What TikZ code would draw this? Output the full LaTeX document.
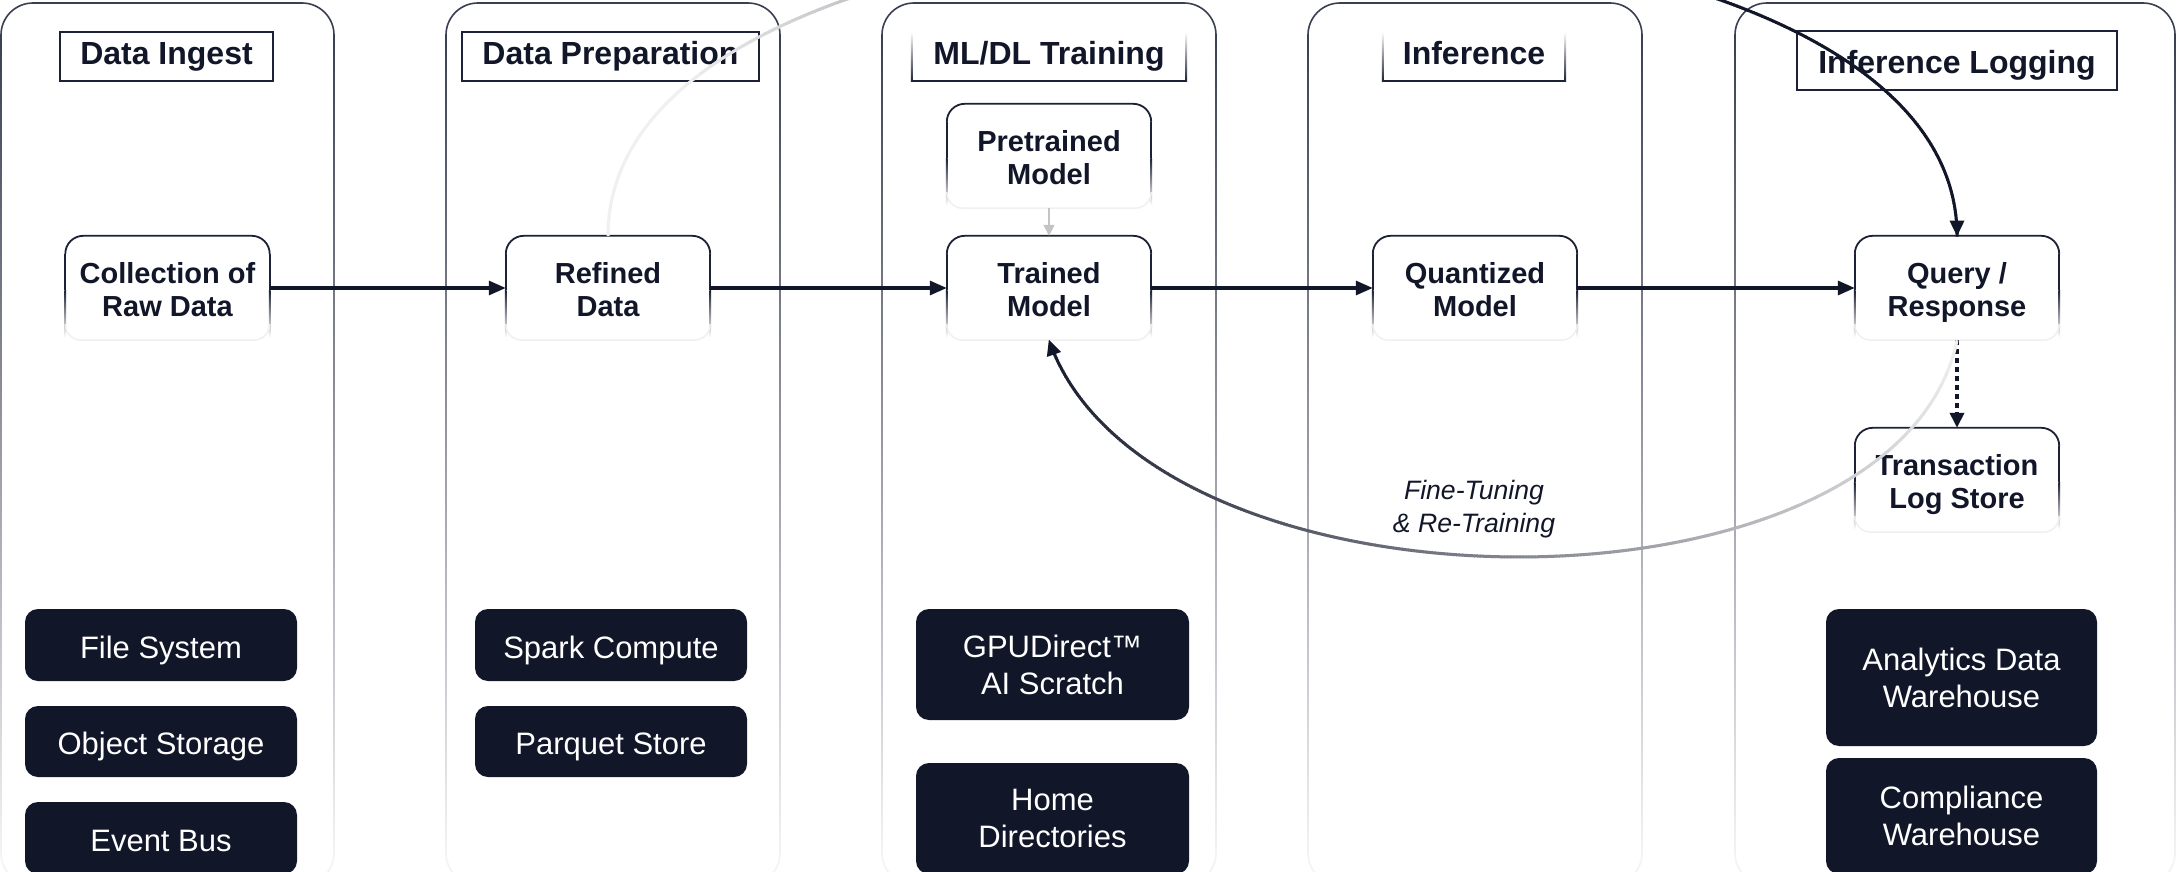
\documentclass[tikz,border=0pt]{standalone}
\usepackage{fontspec}
\setmainfont{Liberation Sans}
\usetikzlibrary{arrows.meta,calc,decorations.markings}
\definecolor{navy}{HTML}{111629}
\definecolor{boxdark}{HTML}{1C2136}
\definecolor{lanedark}{HTML}{3A3F52}
\definecolor{lanelight}{HTML}{F3F3F5}
\definecolor{arclight}{HTML}{F0F0F0}
\definecolor{greyarr}{HTML}{C4C4C4}

\newcommand\nodefont{\fontsize{29}{33}\selectfont\bfseries}
\newcommand\titlefont{\fontsize{32}{36}\selectfont\bfseries}
\newcommand\storefont{\fontsize{31}{37}\selectfont}
\newcommand\labelfont{\fontsize{26.6}{33}\selectfont\itshape}
\newcommand\hs{\rule{0pt}{1.054em}}
\newcommand\ds{\rule[-0.22em]{0pt}{0.22em}}

\tikzset{
  mainbox/.style={rectangle, fill=white, minimum width=204pt, minimum height=104pt,
    inner sep=0pt, align=center, text=navy, font=\nodefont},
  closedtitle/.style={rectangle, draw=boxdark, line width=2pt, fill=white, inner sep=0pt,
    text=navy, font=\titlefont, text height=23pt, text depth=7.4pt},
  opentitle/.style={rectangle, inner sep=0pt, fill=white,
    text=navy, font=\titlefont, text height=23pt, text depth=7.4pt},
  storebox/.style={rectangle, rounded corners=13pt, fill=navy, text=white, align=center,
    inner sep=0pt, minimum width=272pt, font=\storefont},
  oneline/.style={text height=27pt, text depth=0.8pt},
  flow/.style={line width=3.2pt, draw=navy, -{Triangle[length=17pt,width=14pt]}},
  greyflow/.style={line width=1.6pt, draw=greyarr, -{Triangle[length=11pt,width=11pt]}},
  dotflow/.style={line width=3.6pt, draw=navy, dash pattern=on 5pt off 4pt,
    -{Triangle[length=15pt,width=14pt]}},
  gradarc/.style n args={2}{
    postaction={decorate, decoration={markings,
      mark=between positions 0 and -14pt step 3pt with {%
        \pgfmathtruncatemacro\gfr{min(100,max(0,100*(\pgfkeysvalueof{/pgf/decoration/mark info/distance from start}/\pgfdecoratedpathlength-#1)/#2))}%
        \draw[line width=3pt, draw=navy!\gfr!arclight] (0pt,0pt) -- (3.8pt,0pt);}}},
    postaction={decorate, decoration={markings,
      mark=at position 0.9999 with {\fill[navy] (0.5pt,0pt) -- (-15pt,7.5pt) -- (-15pt,-7.5pt) -- cycle;}}}},
  arclabel/.style={align=center, text=navy, font=\labelfont, inner sep=0pt}
}

\newcommand\lanebox[2]{%
  \draw[lanedark, line width=1.6pt] (#1,-35) arc[start angle=180,end angle=90,radius=32]
     -- (#2-32,-3) arc[start angle=90,end angle=0,radius=32];
  \shade[top color=lanedark, bottom color=lanelight] (#1-0.8,-35) rectangle (#1+0.8,-853);
  \shade[top color=lanedark, bottom color=lanelight] (#2-0.8,-35) rectangle (#2+0.8,-853);
  \draw[lanelight, line width=1.6pt] (#1,-853) arc[start angle=180,end angle=270,radius=32]
     -- (#2-32,-885) arc[start angle=270,end angle=360,radius=32];
}

\newcommand\softframe[1]{%
  \draw[boxdark, line width=1.8pt] ($(#1.north west)+(0,-18)$) arc[start angle=180,end angle=90,radius=18]
     -- ($(#1.north east)+(-18,0)$) arc[start angle=90,end angle=0,radius=18];
  \fill[boxdark] ($(#1.north west)+(-0.9,-18)$) rectangle ($(#1.south west)+(0.9,50)$);
  \shade[top color=boxdark, bottom color=white] ($(#1.south west)+(-0.9,50)$) rectangle ($(#1.south west)+(0.9,3)$);
  \fill[boxdark] ($(#1.north east)+(-0.9,-18)$) rectangle ($(#1.south east)+(0.9,50)$);
  \shade[top color=boxdark, bottom color=white] ($(#1.south east)+(-0.9,50)$) rectangle ($(#1.south east)+(0.9,3)$);
  \draw[black!6, line width=1.5pt] ($(#1.south west)+(0,16)$) arc[start angle=180,end angle=270,radius=16]
     -- ($(#1.south east)+(-16,0)$) arc[start angle=270,end angle=360,radius=16];
}

\newcommand\openframe[1]{%
  \draw[boxdark, line width=2pt] ($(#1.south west)+(-1,0)$) -- ($(#1.south east)+(1,0)$);
  \shade[top color=white, bottom color=boxdark] ($(#1.north west)+(-1,0)$) rectangle ($(#1.south west)+(1,0)$);
  \shade[top color=white, bottom color=boxdark] ($(#1.north east)+(-1,0)$) rectangle ($(#1.south east)+(1,0)$);
}

\begin{document}
\begin{tikzpicture}[x=1pt,y=1pt]
\useasboundingbox (0,0) rectangle (2177,-872);
\fill[white] (0,0) rectangle (2177,-872);

% lanes
\lanebox{1}{334}
\lanebox{446}{780}
\lanebox{882}{1216}
\lanebox{1308}{1642}
\lanebox{1735}{2175}

% lane titles
\node[closedtitle, minimum width=213pt, minimum height=49pt] (t1) at (166.5,-56.5) {Data Ingest};
\node[closedtitle, minimum width=297pt, minimum height=49pt] (t2) at (610.5,-56.5) {Data Preparation};
\node[opentitle, minimum width=274pt, minimum height=49pt] (t3) at (1049,-56.5) {ML/DL Training};
\node[opentitle, minimum width=182pt, minimum height=49pt] (t4) at (1474,-56.5) {Inference};
\node[closedtitle, minimum width=320pt, minimum height=59pt, text height=27pt, text depth=1pt] (t5) at (1957,-60.5) {Inference Logging};
\openframe{t3}
\openframe{t4}

% main flow nodes
\node[mainbox] (coll) at (167.5,-288) {\hs Collection of\\Raw Data\ds};
\node[mainbox] (ref) at (608,-288) {\hs Refined\\Data\ds};
\node[mainbox] (pre) at (1049,-156) {\hs Pretrained\\Model\ds};
\node[mainbox] (tm) at (1049,-288) {\hs Trained\\Model\ds};
\node[mainbox] (qm) at (1475,-288) {\hs Quantized\\Model\ds};
\node[mainbox] (qr) at (1957,-288) {\hs Query /\\Response\ds};
\node[mainbox] (tls) at (1957,-480) {\hs Transaction\\Log Store\ds};
\softframe{coll}
\softframe{ref}
\softframe{pre}
\softframe{tm}
\softframe{qm}
\softframe{qr}
\softframe{tls}

% storage boxes
\node[storebox, oneline, minimum height=72pt] (fs) at (161,-645) {File System};
\node[storebox, oneline, minimum height=71pt] (os) at (161,-741.5) {Object Storage};
\node[storebox, oneline, minimum height=72pt] (eb) at (161,-838) {Event Bus};
\node[storebox, oneline, minimum height=72pt] (sc) at (611,-645) {Spark Compute};
\node[storebox, oneline, minimum height=71pt] (pq) at (611,-741.5) {Parquet Store};
\node[storebox, minimum width=273pt, minimum height=111pt] (gd) at (1052.5,-664.5) {GPUDirect™\\AI Scratch};
\node[storebox, minimum width=273pt, minimum height=111pt] (hd) at (1052.5,-818.5) {Home\\Directories};
\node[storebox, minimum width=271pt, minimum height=137pt] (ad) at (1961.5,-677.5) {Analytics Data\\Warehouse};
\node[storebox, minimum width=271pt, minimum height=116pt] (cw) at (1961.5,-816) {Compliance\\Warehouse};

% connectors
\draw[flow] (coll.east) -- (ref.west);
\draw[flow] (ref.east) -- (tm.west);
\draw[flow] (tm.east) -- (qm.west);
\draw[flow] (qm.east) -- (qr.west);
\draw[greyflow] (pre.south) -- (tm.north);
\draw[dotflow] (qr.south) -- (tls.north);

% gradient arcs
\path[gradarc={0.1}{0.6}] (ref.north) .. controls +(0,402) and +(0,402) .. (qr.north);
\path[gradarc={0}{1}] (qr.south) .. controls +(-60,-290) and +(100,-288) .. (tm.south);

\node[arclabel] (lbl) at (1474,-509) {Fine-Tuning\\\& Re-Training};
\end{tikzpicture}
\end{document}
